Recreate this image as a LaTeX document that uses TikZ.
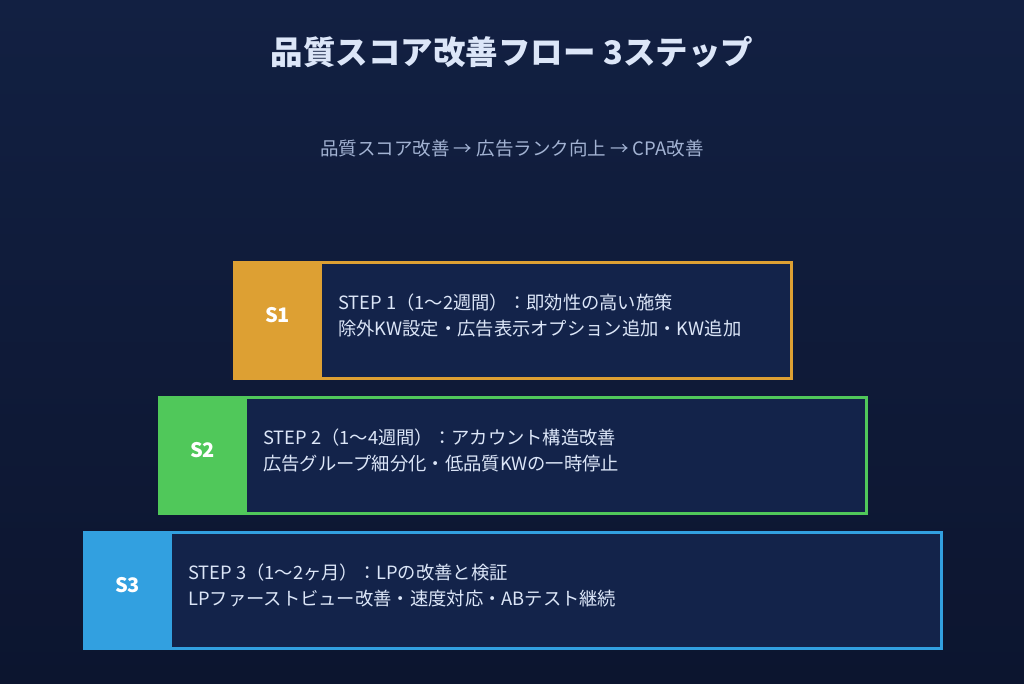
\documentclass[tikz,border=0pt]{standalone}
\usepackage{fontspec}
\setmainfont{Noto Sans CJK JP}
\definecolor{bgtop}{HTML}{122042}
\definecolor{bgbot}{HTML}{0C152F}
\definecolor{boxfill}{HTML}{13234A}
\definecolor{txtcol}{HTML}{DCE6F8}
\definecolor{subcol}{HTML}{A3B3D3}
\definecolor{stepA}{HTML}{DDA033}
\definecolor{stepB}{HTML}{50C85A}
\definecolor{stepC}{HTML}{32A0E0}
\tikzset{
	stepframe/.style={draw=#1, line width=3pt, fill=boxfill, minimum height=116pt, inner sep=0pt},
	steptag/.style={fill=#1, minimum width=89pt, minimum height=118pt, inner sep=0pt},
	taglabel/.style={text=white, inner sep=0pt, font=\fontsize{20}{24}\selectfont\bfseries},
	steptext/.style={anchor=west, align=left, text=txtcol, inner sep=0pt, font=\fontsize{18.3}{26}\selectfont},
}
\begin{document}
\begin{tikzpicture}[x=1pt, y=-1pt]
	\shade[top color=bgtop, bottom color=bgbot] (0,0) rectangle (1024,683);
	\useasboundingbox (0,0) rectangle (1024,683);

	\node[text=txtcol, font=\fontsize{32.5}{36}\selectfont\bfseries] (title) at (512,52) {品質スコア改善フロー 3ステップ};
	\node[text=subcol, font=\fontsize{18.5}{20}\selectfont] (sub) at (512,149) {品質スコア改善 → 広告ランク向上 → CPA改善};

	\node[stepframe=stepA, minimum width=557pt] (box1) at (512.5,320.5) {};
	\node[steptag=stepA] (tag1) at (277.5,320.5) {};
	\node[taglabel] (lab1) at (277.5,315) {S1};
	\node[steptext] (txt1) at (338,315) {STEP 1（1〜2週間）：即効性の高い施策\\除外KW設定・広告表示オプション追加・KW追加};

	\node[stepframe=stepB, minimum width=707pt] (box2) at (512.5,455.5) {};
	\node[steptag=stepB] (tag2) at (202.5,455.5) {};
	\node[taglabel] (lab2) at (202.5,450) {S2};
	\node[steptext] (txt2) at (263,450) {STEP 2（1〜4週間）：アカウント構造改善\\広告グループ細分化・低品質KWの一時停止};

	\node[stepframe=stepC, minimum width=857pt] (box3) at (512.5,590) {};
	\node[steptag=stepC] (tag3) at (127.5,590) {};
	\node[taglabel] (lab3) at (127.5,585) {S3};
	\node[steptext] (txt3) at (188,585) {STEP 3（1〜2ヶ月）：LPの改善と検証\\LPファーストビュー改善・速度対応・ABテスト継続};
\end{tikzpicture}
\end{document}
